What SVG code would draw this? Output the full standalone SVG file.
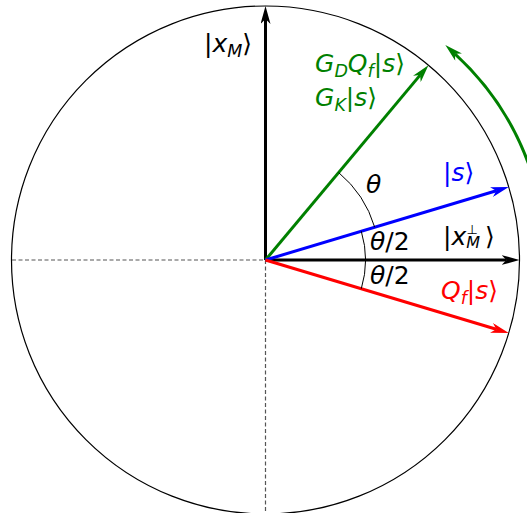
<svg xmlns="http://www.w3.org/2000/svg" width="527" height="513" viewBox="0 0 527 513">
<defs>
<style>
text{font-family:"DejaVu Sans","Liberation Sans",sans-serif;font-size:25px}
.i{font-style:italic}
.sub{font-style:italic;font-size:17.5px}
.vec{stroke-width:3;fill:none}
.ang{stroke:#000;stroke-width:1;fill:none}
.dash{stroke:#555;stroke-width:1.2;stroke-dasharray:4 2.5;fill:none}
</style>
<marker id="ak" viewBox="0 0 18 10" refX="5" refY="5" markerWidth="18" markerHeight="10" markerUnits="userSpaceOnUse" orient="auto"><path d="M0,0 L18,5 L0,10 L5,5 Z" fill="#000"/></marker>
<marker id="ab" viewBox="0 0 18 10" refX="5" refY="5" markerWidth="18" markerHeight="10" markerUnits="userSpaceOnUse" orient="auto"><path d="M0,0 L18,5 L0,10 L5,5 Z" fill="#0000ff"/></marker>
<marker id="ar" viewBox="0 0 18 10" refX="5" refY="5" markerWidth="18" markerHeight="10" markerUnits="userSpaceOnUse" orient="auto"><path d="M0,0 L18,5 L0,10 L5,5 Z" fill="#ff0000"/></marker>
<marker id="ag" viewBox="0 0 18 10" refX="5" refY="5" markerWidth="18" markerHeight="10" markerUnits="userSpaceOnUse" orient="auto"><path d="M0,0 L18,5 L0,10 L5,5 Z" fill="#008000"/></marker>
</defs>
<rect width="527" height="513" fill="#fff"/>
<circle id="circle" cx="265.5" cy="260" r="254" fill="none" stroke="#000" stroke-width="1.2"/>
<g id="axes">
<line class="dash" x1="12" y1="260" x2="265.5" y2="260"/>
<line class="dash" x1="265.5" y1="260" x2="265.5" y2="513"/>
</g>
<g id="connectors">
<line class="vec" stroke="#000" x1="265.5" y1="260" x2="265.5" y2="19" marker-end="url(#ak)"/>
<line class="vec" stroke="#000" x1="265.5" y1="260" x2="506.5" y2="260" marker-end="url(#ak)"/>
<line class="vec" stroke="#008000" x1="265.5" y1="260" x2="420.1" y2="75.1" marker-end="url(#ag)"/>
<line class="vec" stroke="#0000ff" x1="265.5" y1="260" x2="496.3" y2="190.7" marker-end="url(#ab)"/>
<line class="vec" stroke="#ff0000" x1="265.5" y1="260" x2="496.3" y2="329.3" marker-end="url(#ar)"/>
<path class="vec" stroke="#008000" d="M533.7,179.5 A280,280 0 0 0 454.9,53.8" marker-end="url(#ag)"/>
<path class="ang" d="M338.6,172.5 A114,114 0 0 1 374.7,227.2"/>
<path class="ang" d="M361.3,231.3 A100,100 0 0 1 361.3,288.7"/>
</g>
<g id="label-xM"><text x="204" y="52">|<tspan class="i">x</tspan><tspan class="sub" dy="5">M</tspan><tspan dy="-5">⟩</tspan></text></g>
<g id="label-GD" fill="#008000"><text x="315" y="72"><tspan class="i">G</tspan><tspan class="sub" dy="5">D</tspan><tspan class="i" dy="-5">Q</tspan><tspan class="sub" dy="5">f</tspan><tspan dy="-5">|</tspan><tspan class="i">s</tspan>⟩</text>
<text x="315" y="106"><tspan class="i">G</tspan><tspan class="sub" dy="5">K</tspan><tspan dy="-5">|</tspan><tspan class="i">s</tspan>⟩</text></g>
<g id="label-theta"><text x="366" y="193" class="i">θ</text></g>
<g id="label-s" fill="#0000ff"><text x="443" y="181">|<tspan class="i">s</tspan>⟩</text></g>
<g id="label-xMperp"><text x="443" y="245">|<tspan class="i">x</tspan><tspan class="i" font-size="16" dy="3">M</tspan><tspan font-size="13" dx="-13.5" dy="-14">⊥</tspan><tspan dx="7" dy="11">⟩</tspan></text></g>
<g id="label-half1"><text x="370" y="250"><tspan class="i">θ</tspan>/2</text></g>
<g id="label-half2"><text x="370" y="284"><tspan class="i">θ</tspan>/2</text></g>
<g id="label-Qf" fill="#ff0000"><text x="441" y="299"><tspan class="i">Q</tspan><tspan class="sub" dy="5">f</tspan><tspan dy="-5">|</tspan><tspan class="i">s</tspan>⟩</text></g>
</svg>
